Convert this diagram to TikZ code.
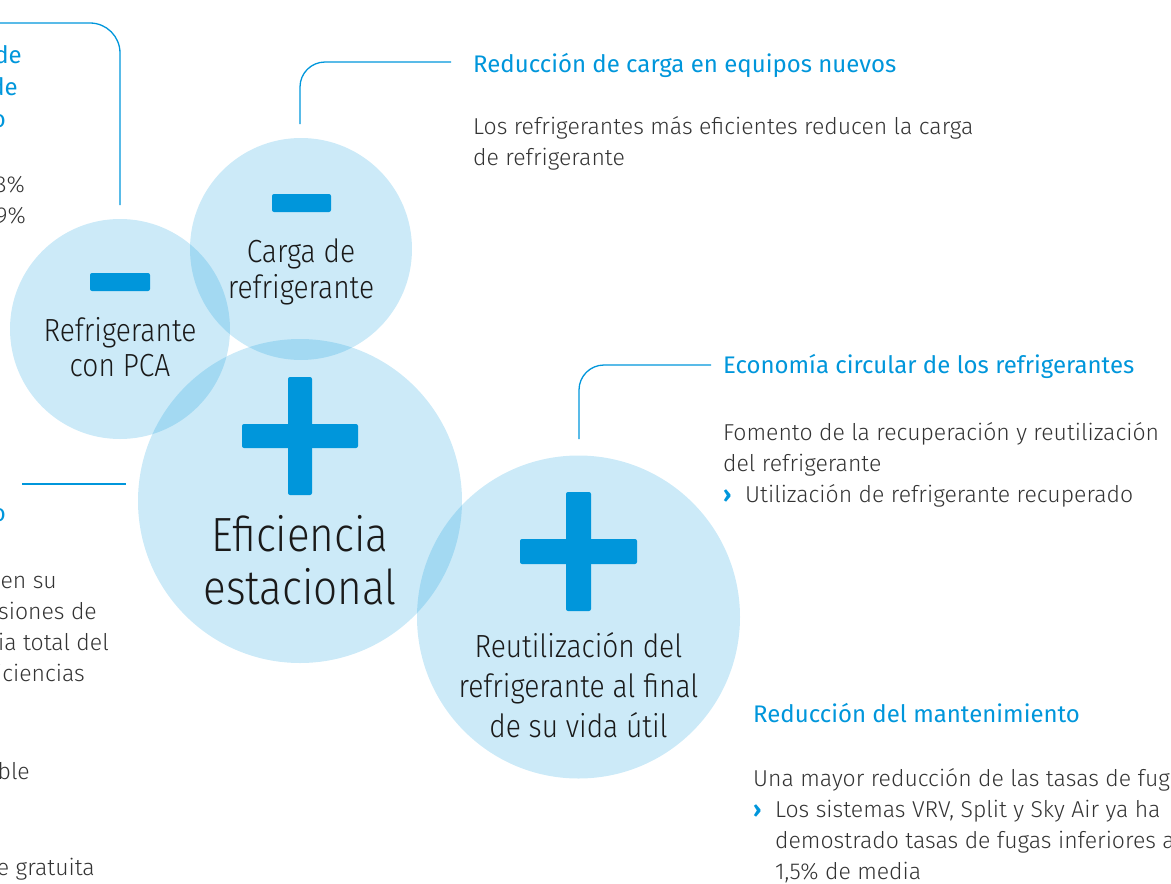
\documentclass[tikz,border=0pt]{standalone}
\usepackage{fontspec}
\IfFontExistsTF{Fira Sans Light}{%
  \newfontfamily\bodyfont{Fira Sans Light}%
  \newfontfamily\circfont{Fira Sans Light}[FakeStretch=0.88]}{%
  \newfontfamily\bodyfont{Fira Sans}%
  \newfontfamily\circfont{Fira Sans}[FakeStretch=0.88]}
\newfontfamily\titlefont{Fira Sans}
\definecolor{dkblue}{RGB}{0,150,219}
\definecolor{bodygray}{RGB}{51,51,51}
\definecolor{inkblack}{RGB}{26,26,26}
\newcommand{\bul}{\makebox[22pt][l]{\textcolor{dkblue}{\titlefont\bfseries ›}}}
\tikzset{
  bubble/.style={circle, fill=dkblue, fill opacity=0.2, draw=none, inner sep=0pt},
  barshape/.style={fill=dkblue, draw=none, rounded corners=2pt},
  conn/.style={draw=dkblue, line width=1.3pt, rounded corners=25pt},
  circtext/.style={align=center, inner sep=0pt, text=inkblack, anchor=north},
  ttl/.style={anchor=base west, inner sep=0pt, text=dkblue, font=\titlefont\fontsize{24}{30}\selectfont},
  frag/.style={anchor=base east, inner sep=0pt},
  bodytxt/.style={align=left, inner sep=0pt, text=bodygray, anchor=north west, font=\bodyfont\fontsize{23}{31}\selectfont},
}
\begin{document}
\begin{tikzpicture}[x=1pt,y=-1pt]
\useasboundingbox (0,0) rectangle (1171,884);
\clip (0,0) rectangle (1171,884);

% bubbles
\node[bubble, minimum size=220pt] (c1) at (120,329) {};
\node[bubble, minimum size=222pt] (c2) at (301,249) {};
\node[bubble, minimum size=324pt] (c3) at (300,501) {};
\node[bubble, minimum size=323pt] (c4) at (578.5,617) {};

% minus / plus signs
\fill[barshape] (90,273) rectangle (150,291);
\fill[barshape] (272,194) rectangle (331,212);
\fill[barshape] (242,424) rectangle (358,448);
\fill[barshape] (288,377) rectangle (312,495);
\fill[barshape] (520,539) rectangle (637,564);
\fill[barshape] (566,492) rectangle (591,611);

% circle labels
\node[circtext, font=\circfont\fontsize{32}{35}\selectfont] (l1) at (120,316.5) {\strut Refrigerante\\con PCA};
\node[circtext, font=\circfont\fontsize{32}{36}\selectfont] (l2) at (301,236.8) {\strut Carga de\\refrigerante};
\node[circtext, font=\circfont\fontsize{48}{51}\selectfont] (l3) at (300,515.3) {\strut Eficiencia\\estacional};
\node[circtext, font=\circfont\fontsize{32}{40}\selectfont] (l4) at (578.5,629) {\strut Reutilización del\\refrigerante al final\\de su vida útil};

% connectors
\coordinate (a0) at (120,205); \coordinate (b0) at (-5,23);
\draw[conn, rounded corners=30pt] (a0) |- (b0);
\coordinate (a1) at (300,124); \coordinate (b1) at (451,62);
\draw[conn] (a1) |- (b1);
\coordinate (a2) at (579,439); \coordinate (b2) at (711,365);
\draw[conn] (a2) |- (b2);
\coordinate (a3) at (22,484); \coordinate (b3) at (126,484);
\draw[conn] (a3) -- (b3);

% right text blocks
\node[ttl] (t1) at (473,72) {Reducción de carga en equipos nuevos};
\node[bodytxt] (x1) at (473,113) {\strut Los refrigerantes más eficientes reducen la carga\\de refrigerante};

\node[ttl] (t2) at (723,373) {Economía circular de los refrigerantes};
\node[bodytxt] (x2) at (723,419) {\strut Fomento de la recuperación y reutilización\\del refrigerante\\\bul Utilización de refrigerante recuperado};

\node[ttl] (t3) at (753,722) {Reducción del mantenimiento};
\node[bodytxt] (x3) at (753,764.5) {\strut Una mayor reducción de las tasas de fug\\\bul Los sistemas VRV, Split y Sky Air ya ha\\\hspace*{22pt}demostrado tasas de fugas inferiores a\\\hspace*{22pt}1,5\% de media};

% left cut fragments (top)
\node[frag, text=dkblue, font=\titlefont\fontsize{24}{30}\selectfont] (f1) at (22,63) {de};
\node[frag, text=dkblue, font=\titlefont\fontsize{24}{30}\selectfont] (f2) at (18,95) {de};
\node[frag, text=dkblue, font=\titlefont\fontsize{24}{30}\selectfont] (f3) at (6,127) {o};
\node[frag, text=bodygray, font=\bodyfont\fontsize{23}{31}\selectfont] (f4) at (25,192) {8\%};
\node[frag, text=bodygray, font=\bodyfont\fontsize{23}{31}\selectfont] (f5) at (26,223) {9\%};

% left cut fragments (middle/bottom)
\node[frag, text=dkblue, font=\titlefont\fontsize{24}{30}\selectfont] (g1) at (6,521) {o};
\node[frag, text=bodygray, font=\bodyfont\fontsize{23}{31}\selectfont] (g2) at (57,588) {en su};
\node[frag, text=bodygray, font=\bodyfont\fontsize{23}{31}\selectfont] (g3) at (97,619) {siones de};
\node[frag, text=bodygray, font=\bodyfont\fontsize{23}{31}\selectfont] (g4) at (109,650) {ia total del};
\node[frag, text=bodygray, font=\bodyfont\fontsize{23}{31}\selectfont] (g5) at (85,681) {iciencias};
\node[frag, text=bodygray, font=\bodyfont\fontsize{23}{31}\selectfont] (g6) at (30,779) {ble};
\node[frag, text=bodygray, font=\bodyfont\fontsize{23}{31}\selectfont] (g7) at (95,875) {e gratuita};
\end{tikzpicture}
\end{document}
